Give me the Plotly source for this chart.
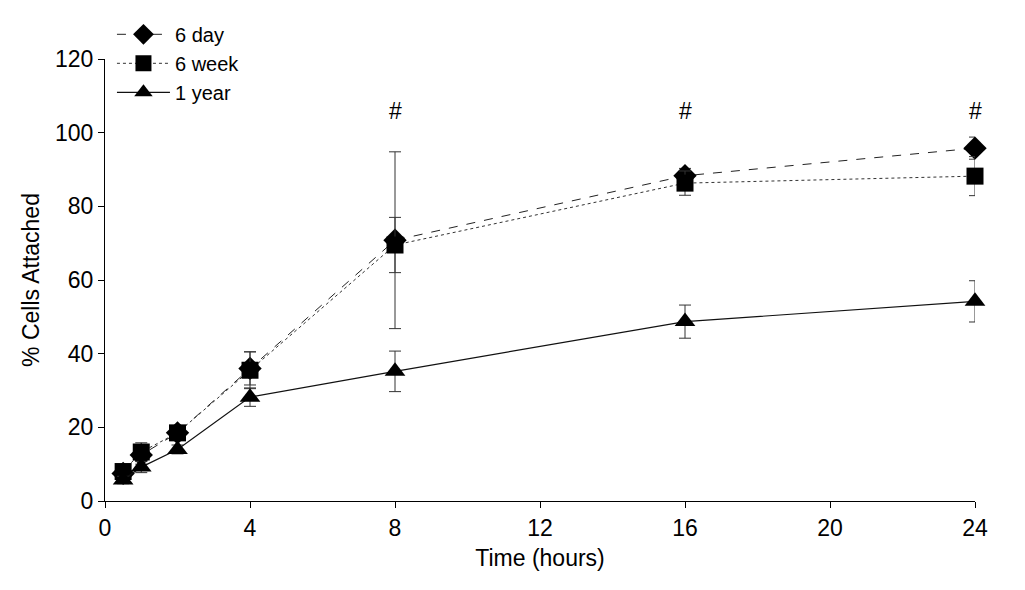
import plotly.graph_objects as go

time_h = [0.5, 1, 2, 4, 8, 16, 24]

day6 = [7.5, 12.5, 18.5, 36.0, 70.8, 88.3, 95.8]
day6_err = [1.5, 2.5, 1.5, 4.5, 24.0, 2.0, 3.0]

week6 = [8.0, 13.3, 18.5, 35.5, 69.5, 86.3, 88.2]
week6_err = [1.5, 2.5, 1.5, 5.0, 7.5, 3.3, 5.3]

year1 = [5.7, 9.2, 14.0, 28.2, 35.2, 48.7, 54.2]
year1_err = [1.0, 1.5, 1.2, 2.5, 5.5, 4.5, 5.6]

sig_x = [8, 16, 24]
sig_y = [106, 106, 106]
sig_label = "#"

FONT = "Liberation Sans, Arial, Helvetica"

fig = go.Figure()

fig.add_trace(go.Scatter(
    x=time_h, y=day6, name="6 day", mode="lines+markers",
    line=dict(color="#222222", width=1, dash="dash"),
    marker=dict(symbol="diamond", size=18, color="black"),
    error_y=dict(type="data", array=day6_err, visible=True, color="#333333", thickness=1, width=6),
    cliponaxis=False,
))
fig.add_trace(go.Scatter(
    x=time_h, y=week6, name="6 week", mode="lines+markers",
    line=dict(color="#333333", width=1, dash="dot"),
    marker=dict(symbol="square", size=17, color="black"),
    error_y=dict(type="data", array=week6_err, visible=True, color="#333333", thickness=1, width=6),
    cliponaxis=False,
))
fig.add_trace(go.Scatter(
    x=time_h, y=year1, name="1 year", mode="lines+markers",
    line=dict(color="#111111", width=1.2),
    marker=dict(symbol="triangle-up", size=18, color="black"),
    error_y=dict(type="data", array=year1_err, visible=True, color="#333333", thickness=1, width=6),
    cliponaxis=False,
))

for xx, yy in zip(sig_x, sig_y):
    fig.add_annotation(x=xx, y=yy, text=sig_label, showarrow=False,
                       font=dict(size=23, color="black", family=FONT))

fig.update_layout(
    width=1009, height=574,
    margin=dict(l=97, r=42, t=51, b=81, autoexpand=False),
    paper_bgcolor="white", plot_bgcolor="white",
    font=dict(family=FONT, color="black", size=23),
    showlegend=True,
    legend=dict(x=0.008, y=1.10, xanchor="left", yanchor="top",
                font=dict(size=20), bgcolor="rgba(0,0,0,0)",
                tracegroupgap=0, itemwidth=53),
)
fig.update_xaxes(
    range=[0, 24], tickvals=[0, 4, 8, 12, 16, 20, 24],
    showline=True, linecolor="black", linewidth=1,
    ticks="outside", ticklen=6, tickcolor="black",
    showgrid=False, zeroline=False,
    title=dict(text="Time (hours)", font=dict(size=23), standoff=10),
    tickfont=dict(size=23),
)
fig.update_yaxes(
    range=[0, 120], tickvals=[0, 20, 40, 60, 80, 100, 120],
    showline=True, linecolor="black", linewidth=1,
    ticks="outside", ticklen=6, tickcolor="black",
    showgrid=False, zeroline=False,
    title=dict(text="% Cells Attached", font=dict(size=23), standoff=8),
    tickfont=dict(size=23),
)

fig.write_html("out.html")
